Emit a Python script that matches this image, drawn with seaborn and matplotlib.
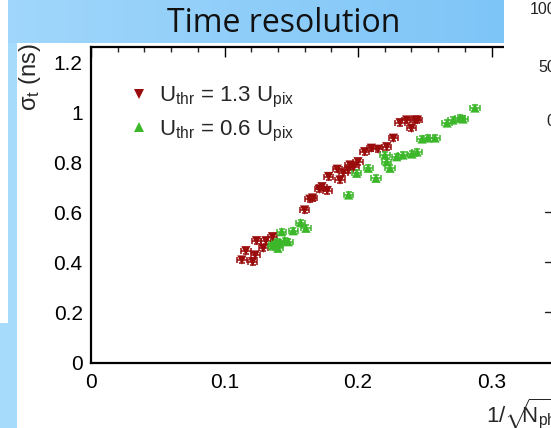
import numpy as np
import pandas as pd
import matplotlib
matplotlib.use("Agg")
import matplotlib.pyplot as plt
import seaborn as sns
from matplotlib.patches import Rectangle
from matplotlib.lines import Line2D
from matplotlib.ticker import MultipleLocator
from matplotlib.colors import LinearSegmentedColormap

# Time resolution vs 1/sqrt(N_ph) for two threshold settings
hi_thr_x = [0.113, 0.116, 0.121, 0.123, 0.124, 0.129, 0.131, 0.136,
            0.160, 0.164, 0.166, 0.171, 0.173, 0.177, 0.178, 0.1845,
            0.1865, 0.189, 0.1928, 0.194, 0.197, 0.200, 0.205, 0.210,
            0.215, 0.2215, 0.2265, 0.2315, 0.2365, 0.240, 0.2427, 0.2445]
hi_thr_y = [0.412, 0.449, 0.405, 0.432, 0.489, 0.459, 0.489, 0.505,
            0.612, 0.655, 0.660, 0.695, 0.705, 0.690, 0.746, 0.775,
            0.732, 0.760, 0.772, 0.792, 0.785, 0.805, 0.845, 0.859,
            0.855, 0.865, 0.899, 0.961, 0.972, 0.939, 0.972, 0.972]

lo_thr_x = [0.136, 0.137, 0.138, 0.139, 0.140, 0.141, 0.1428, 0.145,
            0.1478, 0.1515, 0.157, 0.161, 0.193, 0.199, 0.2077, 0.2135,
            0.2202, 0.2215, 0.224, 0.229, 0.2337, 0.2404, 0.2442, 0.248,
            0.2524, 0.2577, 0.2667, 0.2712, 0.2764, 0.2787, 0.2876]
lo_thr_y = [0.468, 0.478, 0.472, 0.485, 0.459, 0.480, 0.525, 0.490,
            0.485, 0.529, 0.561, 0.539, 0.672, 0.759, 0.779, 0.739,
            0.832, 0.805, 0.779, 0.825, 0.832, 0.836, 0.844, 0.896,
            0.900, 0.900, 0.960, 0.972, 0.980, 0.976, 1.020]

series_names = [r"U$_{\rm thr}$ = 1.3 U$_{\rm pix}$",
                r"U$_{\rm thr}$ = 0.6 U$_{\rm pix}$"]
series_colors = ["#9a0b0b", "#3cb72a"]
series_markers = ["v", "^"]

x_ticks = [0, 0.1, 0.2, 0.3]
x_tick_labels = ["0", "0.1", "0.2", "0.3"]
y_ticks = [0, 0.2, 0.4, 0.6, 0.8, 1.0, 1.2]
y_tick_labels = ["0", "0.2", "0.4", "0.6", "0.8", "1", "1.2"]

x_err = 0.0035
y_err = 0.012

df = pd.DataFrame({
    "x": hi_thr_x + lo_thr_x,
    "y": hi_thr_y + lo_thr_y,
    "series": [series_names[0]] * len(hi_thr_x) + [series_names[1]] * len(lo_thr_x),
})

sns.set_style("white")
plt.rcParams["font.family"] = ["Liberation Sans", "DejaVu Sans"]
plt.rcParams["mathtext.fontset"] = "custom"
plt.rcParams["mathtext.rm"] = "Liberation Sans"
plt.rcParams["mathtext.it"] = "Liberation Sans:italic"
plt.rcParams["mathtext.bf"] = "Liberation Sans:bold"
plt.rcParams["mathtext.sf"] = "Liberation Sans"

W, H = 551, 428
fig = plt.figure(figsize=(W / 100, H / 100), dpi=100)
fig.patch.set_facecolor("white")


def fx(px):
    return px / W


def fy(py):
    return 1 - py / H


# slide background pieces
strip_blue = "#a7dbfb"
fig.add_artist(Rectangle((fx(8), 0), fx(9), 1, transform=fig.transFigure,
                         color=strip_blue, lw=0, zorder=1))
fig.add_artist(Rectangle((0, 0), fx(17), fy(323), transform=fig.transFigure,
                         color=strip_blue, lw=0, zorder=1))

# title banner with a soft horizontal gradient
tax = fig.add_axes([fx(8), fy(43), fx(496), 43 / H], zorder=3)
grad = np.linspace(0, 1, 256)[None, :]
banner_cmap = LinearSegmentedColormap.from_list("banner", ["#a0d6fb", "#7ec5f7"])
tax.imshow(grad, aspect="auto", cmap=banner_cmap, extent=[0, 1, 0, 1])
tax.set_axis_off()
tax.text(fx(284 - 8) / fx(496), 0.45, "Time resolution", transform=tax.transAxes,
         ha="center", va="center", fontsize=23, family=["Open Sans", "DejaVu Sans"],
         color="#111111")

# main axes
ax = fig.add_axes([fx(91), fy(363), 0.36 * 1335 / W, (363 - 47) / H], zorder=2)
ax.set_facecolor("none")

sns.scatterplot(data=df, x="x", y="y", hue="series", style="series",
                hue_order=series_names, style_order=series_names,
                palette=dict(zip(series_names, series_colors)),
                markers=dict(zip(series_names, series_markers)),
                s=44, linewidth=0, legend=False, ax=ax, zorder=4)

for xs, ys, c in [(hi_thr_x, hi_thr_y, series_colors[0]),
                  (lo_thr_x, lo_thr_y, series_colors[1])]:
    ax.errorbar(xs, ys, xerr=x_err, yerr=y_err, fmt="none", ecolor=c,
                elinewidth=1.1, capsize=2.2, capthick=1.1, zorder=3)

ax.set_xlim(0, 0.36)
ax.set_ylim(0, 1.264)
ax.set_xticks(x_ticks)
ax.set_xticklabels(x_tick_labels)
ax.set_yticks(y_ticks)
ax.set_yticklabels(y_tick_labels)
ax.xaxis.set_minor_locator(MultipleLocator(0.02))
ax.yaxis.set_minor_locator(MultipleLocator(0.04))
ax.tick_params(axis="x", which="major", direction="in", top=True, length=7.2,
               width=1, pad=7, labelsize=15, colors="black")
ax.tick_params(axis="x", which="minor", direction="in", top=True, length=3.6, width=1)
ax.tick_params(axis="y", which="major", direction="in", right=True, length=9.4,
               width=1, pad=6, labelsize=15, colors="black")
ax.tick_params(axis="y", which="minor", direction="in", right=True, length=5, width=1)
for sp in ax.spines.values():
    sp.set_linewidth(1.6)
    sp.set_color("black")
ax.set_xlabel("")
ax.set_ylabel("")

# legend
handles = [Line2D([], [], ls="none", marker=m, color=c, markersize=6.5, markeredgewidth=0)
           for m, c in zip(series_markers, series_colors)]
ax.legend(handles, series_names, loc="upper left", frameon=False,
          bbox_to_anchor=(fx(131), fy(85)), bbox_transform=fig.transFigure,
          fontsize=16, handlelength=0.7, handletextpad=0.55, labelspacing=0.38,
          borderpad=0, borderaxespad=0)

# axis titles
fig.text(fx(30), fy(43), "σ$_{\\rm t}$ (ns)", rotation=90, ha="center", va="top",
         fontsize=17)
fig.text(fx(486), fy(414),
         r"$1/\sqrt{\!\!\!\mathrm{N}_{\mathrm{ph}}}$",
         ha="left", va="center", fontsize=16)

# neighbouring panel peeking in at the right edge
fig.add_artist(Rectangle((fx(504), fy(340)), fx(60), 340 / H, transform=fig.transFigure,
                         color="white", lw=0, zorder=5))
for label, px, py in [("100", 530, 9), ("50", 538, 67), ("0", 546, 122)]:
    fig.text(fx(px), fy(py), label, ha="left", va="center", fontsize=11.5,
             color="#222222", zorder=6)
for py in [212, 262, 312]:
    fig.add_artist(Line2D([fx(545), fx(551)], [fy(py), fy(py)], transform=fig.transFigure,
                          color="#222222", lw=1, zorder=6))

fig.savefig("out.png", dpi=100)
